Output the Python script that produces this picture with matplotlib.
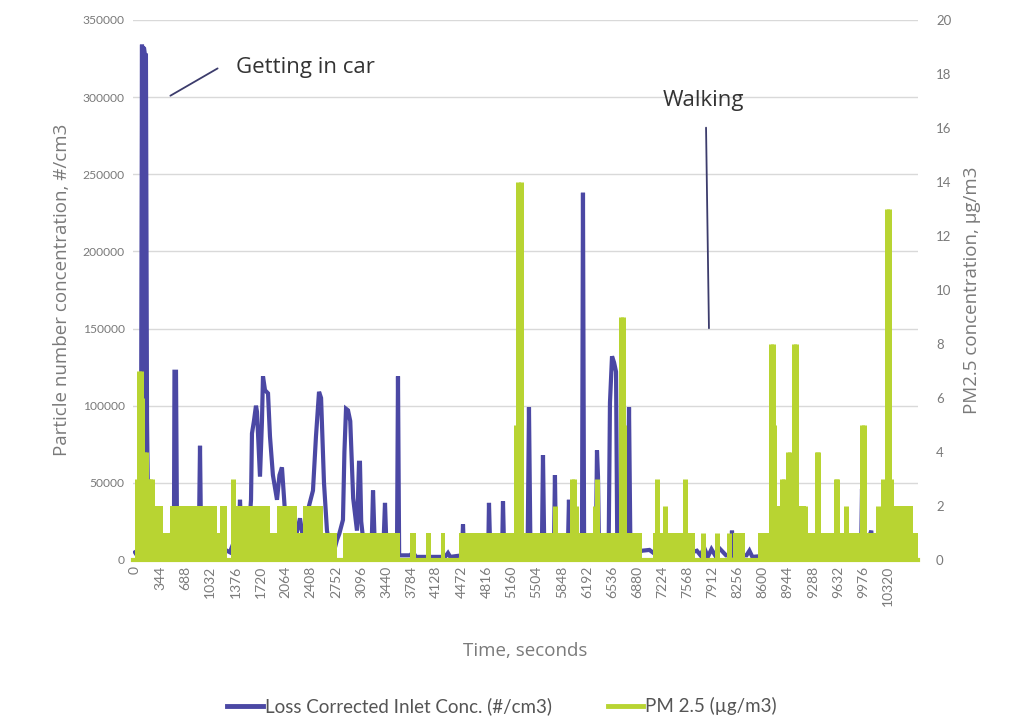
import matplotlib
matplotlib.use("Agg")
import matplotlib.pyplot as plt
from matplotlib.lines import Line2D

plt.rcParams['font.family'] = ['Lato', 'DejaVu Sans']

BLUE = '#4b48a4'
GREEN = '#b8d432'
GREY = '#7a7a7a'

# particle number concentration (#/cm3): (time s, value)
particle_number = [
    (0, 5000), (27, 3000), (55, 8000), (82, 50000), (96, 334000), (103, 40000),
    (110, 333000), (116, 60000), (123, 332000), (137, 327000), (150, 327000),
    (165, 90000), (178, 40000), (192, 15000), (206, 6000), (233, 3000),
    (300, 14000), (400, 4000), (520, 19000), (534, 19000), (541, 122000),
    (562, 122000), (576, 19000), (700, 20000), (877, 20000), (891, 74000),
    (904, 20000), (1100, 10000), (1300, 5000), (1425, 20000), (1439, 39000),
    (1455, 20000), (1562, 20000), (1590, 39000), (1603, 82000), (1630, 90000),
    (1658, 100000), (1672, 96000), (1713, 54000), (1740, 90000), (1754, 119000),
    (1782, 110000), (1823, 108000), (1850, 80000), (1890, 55000), (1946, 39000),
    (1980, 55000), (2014, 60000), (2050, 35000), (2124, 19000), (2180, 10000),
    (2261, 27000), (2300, 15000), (2357, 30000), (2400, 38000), (2439, 45000),
    (2480, 80000), (2522, 109000), (2550, 105000), (2590, 50000), (2631, 19000),
    (2672, 8000), (2740, 8000), (2768, 13000), (2800, 17000), (2850, 26000),
    (2870, 70000), (2892, 98000), (2919, 97000), (2950, 90000), (2990, 40000),
    (3042, 19000), (3070, 63000), (3083, 63000), (3100, 25000), (3150, 3000),
    (3240, 3000), (3262, 45000), (3290, 3000), (3400, 3000), (3426, 37000),
    (3450, 3000), (3590, 3000), (3604, 119000), (3620, 3000), (3769, 3000),
    (3810, 5000), (3850, 2000), (4250, 2000), (4289, 4500), (4320, 2000),
    (4480, 3000), (4495, 23000), (4510, 3000), (4840, 3000), (4851, 37000),
    (4870, 3000), (5030, 3000), (5043, 38000), (5060, 3000), (5380, 3000),
    (5399, 99000), (5420, 3000), (5575, 3000), (5591, 68000), (5610, 3000),
    (5740, 3000), (5755, 55000), (5770, 3000), (5930, 3000), (5947, 39000),
    (5965, 3000), (6125, 3000), (6139, 238000), (6155, 3000), (6315, 3000),
    (6331, 71000), (6345, 54000), (6360, 3000), (6490, 3000), (6509, 102000),
    (6537, 132000), (6565, 128000), (6592, 122000), (6610, 3000), (6750, 3000),
    (6770, 99000), (6790, 3000), (6950, 6000), (7050, 6500), (7150, 3000),
    (7500, 3000), (7700, 6000), (7750, 3000), (7800, 8000), (7850, 2000),
    (7900, 7000), (7950, 3000), (8000, 8000), (8100, 3000), (8170, 3000),
    (8181, 19000), (8195, 3000), (8380, 3000), (8420, 6000), (8460, 2000),
    (8700, 3000), (9000, 3000), (9500, 3000), (9950, 3000), (9963, 46000),
    (9977, 3000), (10090, 19000), (10110, 3000), (10717, 3000),
]

# PM2.5 flickers between 0 and a low level most of the time: step envelope (start s, level)
pm_band = [
    (0, 2), (380, 1), (480, 2), (1124, 1), (1165, 2), (1261, 0), (1329, 2),
    (1850, 1), (1946, 2), (2220, 1), (2302, 2), (2576, 1), (2768, 0), (2850, 1),
    (3631, 0), (3769, 1), (3850, 0), (3990, 1), (4060, 0), (4200, 1), (4250, 0),
    (4440, 1), (6950, 0), (7100, 1), (7674, 0), (8195, 1), (8360, 0), (8538, 1),
    (8716, 2), (9200, 1), (10250, 2), (10660, 1), (10730, 1),
]

# PM2.5 peaks above that level (time s, ug/m3)
pm_peaks = [
    (27, 3), (55, 7), (82, 7), (96, 6), (123, 4), (150, 4), (178, 3), (206, 3),
    (233, 3), (260, 2), (1343, 3), (5220, 5), (5250, 14), (5285, 14), (5755, 2),
    (5990, 3), (6020, 3), (6050, 2), (6310, 2), (6331, 3), (6655, 9), (6685, 9),
    (6705, 5), (7153, 3), (7263, 2), (7537, 3), (7784, 1), (7976, 1), (8140, 1),
    (8716, 8), (8740, 8), (8757, 5), (8790, 2), (8860, 3), (8890, 3), (8945, 4),
    (8975, 4), (9031, 8), (9055, 8), (9140, 2), (9182, 2), (9340, 4), (9365, 4),
    (9600, 3), (9625, 3), (9744, 2), (9960, 5), (9985, 5), (10180, 2), (10251, 3),
    (10310, 13), (10335, 13), (10360, 3),
]

time_ticks = list(range(0, 10321, 344))

pn_t, pn_v = zip(*particle_number)
band_t, band_v = zip(*pm_band)
peak_t, peak_v = zip(*pm_peaks)

fig = plt.figure(figsize=(10.1, 7.18), dpi=100)
ax = fig.add_axes([0.1317, 0.2201, 0.7772, 0.7521])
ax2 = ax.twinx()

ax.plot(pn_t, pn_v, color=BLUE, lw=3, solid_joinstyle='miter')

ax2.fill_between(band_t, 0, band_v, step='post', color=GREEN, lw=0)
ax2.axhline(0, color=GREEN, lw=3, clip_on=False)
ax2.vlines(peak_t, 0, peak_v, color=GREEN, lw=3.6)

ax.set_xlim(-27, 10730)
ax.set_ylim(0, 350000)
ax2.set_ylim(0, 20)
ax.set_yticks(range(0, 350001, 50000))
ax2.set_yticks(range(0, 21, 2))
ax.set_xticks(time_ticks)
ax.set_xticklabels([str(t) for t in time_ticks], rotation=90)

ax.grid(axis='y', color='#d9d9d9', lw=1)
ax.set_axisbelow(True)
for a in (ax, ax2):
    for s in a.spines.values():
        s.set_visible(False)
    a.tick_params(length=0, colors=GREY, labelsize=9)
ax.tick_params(axis='y', pad=6, labelsize=8.7)
ax2.tick_params(axis='y', pad=13, labelsize=9.5)
ax.tick_params(axis='x', pad=4, labelsize=10)

label_font = {'family': ['Open Sans', 'DejaVu Sans'], 'size': 13.5, 'color': GREY}
ax.set_ylabel('Particle number concentration, #/cm3', labelpad=8, **label_font)
ax2.set_ylabel('PM2.5 concentration, µg/m3', labelpad=8, **label_font)
ax.set_xlabel('Time, seconds', labelpad=26, **label_font)

# event annotations
note_font = {'family': ['Open Sans', 'DejaVu Sans'], 'size': 16, 'color': '#333333'}
ax.annotate('', xy=(452, 300000), xytext=(1165, 319500),
            arrowprops=dict(arrowstyle='-', color='#3c3c6c', lw=1.3))
ax.text(1390, 319000, 'Getting in car', va='center', **note_font)
ax.annotate('', xy=(7866, 148400), xytext=(7825, 282000),
            arrowprops=dict(arrowstyle='-', color='#3c3c6c', lw=1.3))
ax.text(7784, 298000, 'Walking', va='center', ha='center', **note_font)

handles = [Line2D([], [], color=BLUE, lw=3.5), Line2D([], [], color=GREEN, lw=3.5)]
fig.legend(handles, ['Loss Corrected Inlet Conc. (#/cm3)', 'PM 2.5 (µg/m3)'],
           loc='lower center', bbox_to_anchor=(0.497, -0.02), ncol=2, frameon=False,
           handlelength=1.9, handletextpad=0.1, columnspacing=3.0,
           prop={'size': 13.5}, labelcolor='#555555')

fig.savefig('out.png', dpi=100)
